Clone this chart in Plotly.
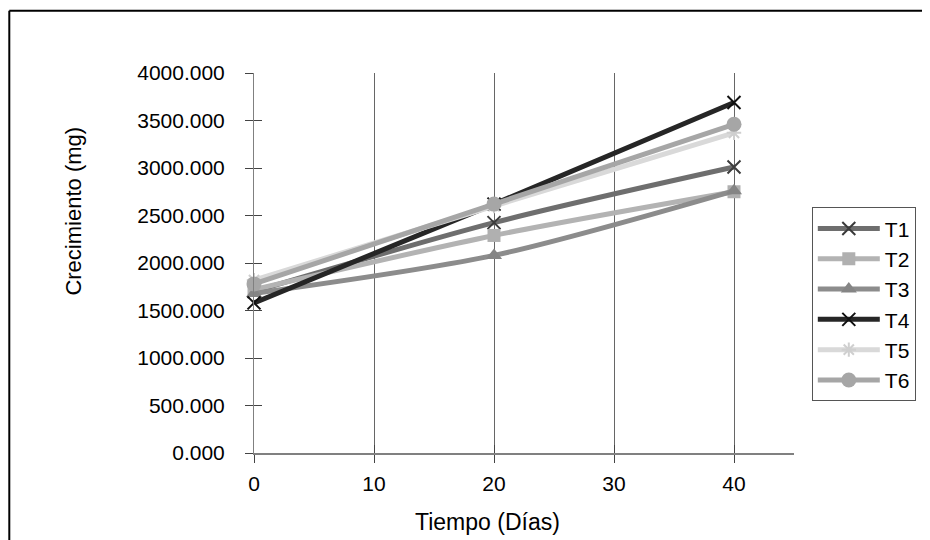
import plotly.graph_objects as go

dias = [0, 20, 40]
series_names = ["T1", "T2", "T3", "T4", "T5", "T6"]
t1 = [1700, 2425, 3010]
t2 = [1720, 2290, 2750]
t3 = [1680, 2080, 2760]
t4 = [1580, 2620, 3690]
t5 = [1820, 2600, 3370]
t6 = [1780, 2620, 3460]
x_ticks = [0, 10, 20, 30, 40]
y_ticks = [0, 500, 1000, 1500, 2000, 2500, 3000, 3500, 4000]

values = [t1, t2, t3, t4, t5, t6]
line_colors = ["#6e6e6e", "#b3b3b3", "#8c8c8c", "#262626", "#d9d9d9", "#a6a6a6"]
marker_symbols = ["x-thin", "square", "triangle-up", "x-thin", "asterisk", "circle"]
marker_colors = ["#3c3c3c", "#b0b0b0", "#858585", "#111111", "#cfcfcf", "#a6a6a6"]
marker_sizes = [13, 13, 14, 13, 12, 15]

FONT = "Liberation Sans, Arial, sans-serif"

fig = go.Figure()
for name, vals, lc, sym, mc, ms in zip(series_names, values, line_colors,
                                       marker_symbols, marker_colors, marker_sizes):
    thin = sym in ("x-thin", "asterisk")
    fig.add_trace(go.Scatter(
        x=dias, y=vals, name=name, mode="lines+markers",
        line=dict(color=lc, width=5, shape="spline", smoothing=0.8),
        marker=dict(symbol=sym, size=ms, color=mc,
                    line=dict(color=mc, width=2 if thin else 0)),
        cliponaxis=False,
    ))

# invisible trace on overlaid axes to provide the inside half of crossing ticks
fig.add_trace(go.Scatter(x=[x_ticks[0]], y=[y_ticks[0]], xaxis="x2", yaxis="y2",
                         mode="markers", marker=dict(opacity=0), showlegend=False,
                         hoverinfo="skip"))

OFF = 8  # page body margin
W, H = 922, 532  # figure fits exactly inside the 930x540 window after the offset
L = 253.7 - OFF
T = 72.7 - OFF
B = H - (452.7 - OFF)
R = W - (793.7 - OFF)
pw, ph = W - L - R, H - T - B

def px_to_paper_x(px):
    return (px - OFF - L) / pw

def px_to_paper_y(py):
    return (H - B - (py - OFF)) / ph

fx0, fy0 = px_to_paper_x(9), px_to_paper_y(10.5)
fx1, fy1 = px_to_paper_x(930), px_to_paper_y(540)

fig.update_layout(
    width=W, height=H,
    margin=dict(l=L, r=R, t=T, b=B, autoexpand=False),
    paper_bgcolor="white", plot_bgcolor="white",
    font=dict(family=FONT, size=20, color="black"),
    showlegend=True,
    legend=dict(
        x=px_to_paper_x(811.5), y=px_to_paper_y(207), xanchor="left", yanchor="top",
        bordercolor="#555555", borderwidth=1, bgcolor="white",
        font=dict(family=FONT, size=21, color="black"),
        itemwidth=62, tracegroupgap=0,
    ),
    xaxis=dict(
        range=[0, 45], tickvals=x_ticks, ticks="outside", ticklen=8, tickwidth=1,
        tickcolor="#444444", showline=True, linecolor="#808080", linewidth=2,
        showgrid=True, gridcolor="#666666", gridwidth=1, zeroline=False,
        tickfont=dict(family=FONT, size=21, color="black"),
        ticklabelstandoff=3,
    ),
    yaxis=dict(
        range=[0, 4000], tickvals=y_ticks, tickformat=".3f", ticks="outside",
        ticklen=8, tickwidth=1, tickcolor="#444444", showline=True,
        linecolor="#808080", linewidth=1, showgrid=False, zeroline=False,
        tickfont=dict(family=FONT, size=21, color="black"),
        ticklabelstandoff=16,
    ),
    xaxis2=dict(
        range=[0, 45], tickvals=x_ticks, ticks="inside", ticklen=8, tickwidth=1,
        tickcolor="#444444", showticklabels=False, showgrid=False, zeroline=False,
        overlaying="x", side="bottom", showline=False,
    ),
    yaxis2=dict(
        range=[0, 4000], tickvals=y_ticks, ticks="inside", ticklen=8, tickwidth=1,
        tickcolor="#444444", showticklabels=False, showgrid=False, zeroline=False,
        overlaying="y", side="left", showline=False,
    ),
    annotations=[
        dict(text="Crecimiento (mg)", xref="paper", yref="paper",
             x=px_to_paper_x(73), y=px_to_paper_y(211), textangle=-90,
             showarrow=False, xanchor="center", yanchor="middle",
             font=dict(family=FONT, size=22, color="black")),
        dict(text="Tiempo (Días)", xref="paper", yref="paper",
             x=px_to_paper_x(487), y=px_to_paper_y(522), showarrow=False,
             xanchor="center", yanchor="middle",
             font=dict(family=FONT, size=23, color="black")),
    ],
    shapes=[
        dict(type="line", xref="paper", yref="paper",
             x0=fx0, x1=fx1, y0=fy0, y1=fy0,
             line=dict(color="black", width=2), layer="above"),
        dict(type="line", xref="paper", yref="paper",
             x0=fx0, x1=fx0, y0=fy0, y1=fy1,
             line=dict(color="black", width=2), layer="above"),
    ],
)

fig.write_html(
    "out.html",
    post_script="document.documentElement.style.overflow='hidden';"
                "document.body.style.overflow='hidden';",
)
